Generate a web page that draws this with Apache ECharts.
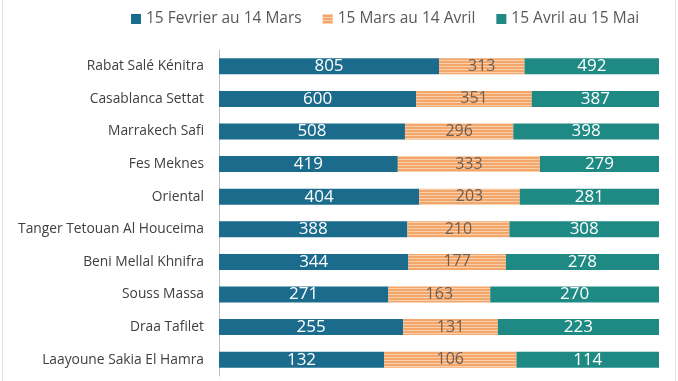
<!DOCTYPE html>
<html>
<head>
<meta charset="utf-8">
<script src="https://cdn.jsdelivr.net/npm/echarts@6/dist/echarts.min.js"></script>
<style>html,body{margin:0;padding:0;background:#fff;}#c{width:678px;height:381px;}</style>
</head>
<body>
<div id="c"></div>
<script>
const categories = ["Rabat Salé Kénitra","Casablanca Settat","Marrakech Safi","Fes Meknes","Oriental","Tanger Tetouan Al Houceima","Beni Mellal Khnifra","Souss Massa","Draa Tafilet","Laayoune Sakia El Hamra"];
const seriesNames = ["15 Fevrier au 14 Mars","15 Mars au 14 Avril","15 Avril au 15 Mai"];
const febMar = [805,600,508,419,404,388,344,271,255,132];
const marApr = [313,351,296,333,203,210,177,163,131,106];
const aprMay = [492,387,398,279,281,308,278,270,223,114];

const raw = [febMar, marApr, aprMay];
const totals = categories.map((c,i)=>raw.reduce((s,a)=>s+a[i],0));
const colors = ['#1b6b8c','#f2a66a','#1f8a84'];
const labelColors = ['#ffffff','#6e5f55','#ffffff'];

const chart = echarts.init(document.getElementById('c'));
chart.setOption({
  backgroundColor:'#ffffff',
  animation:false,
  graphic:[{type:'rect',silent:true,shape:{x:2.5,y:-5,width:673,height:400},style:{fill:null,stroke:'#e4e4e4',lineWidth:1}}],
  legend:{
    top:6, left:126, itemWidth:10, itemHeight:10, itemGap:21,
    icon:'rect',
    textStyle:{fontFamily:'Open Sans',fontSize:15.5,color:'#595959'},
    data:seriesNames
  },
  grid:{left:219,right:19,top:50,bottom:5,containLabel:false},
  xAxis:{type:'value',min:0,max:100,show:false},
  yAxis:{type:'category',data:categories,inverse:true,
    axisLine:{show:true,lineStyle:{color:'#bfbfbf',width:1}},
    axisTick:{show:false},
    axisLabel:{fontFamily:'Open Sans',fontSize:13.8,color:'#404040',margin:15}
  },
  series: raw.map((arr,k)=>{
    const itemStyle = {color:colors[k]};
    if (k===1) itemStyle.decal = {symbol:'rect',color:'rgba(255,240,225,0.55)',dashArrayX:[1,0],dashArrayY:[1,2],rotation:0,symbolSize:1};
    return {
      name:seriesNames[k],
      type:'bar',
      stack:'total',
      barWidth:16,
      data:arr.map((v,i)=>v/totals[i]*100),
      itemStyle:itemStyle,
      label:{show:true,position:'inside',
        fontFamily:'Open Sans',fontSize: k===1?16:17,color:labelColors[k],
        formatter:p=>arr[p.dataIndex]}
    };
  })
});
</script>
</body>
</html>
